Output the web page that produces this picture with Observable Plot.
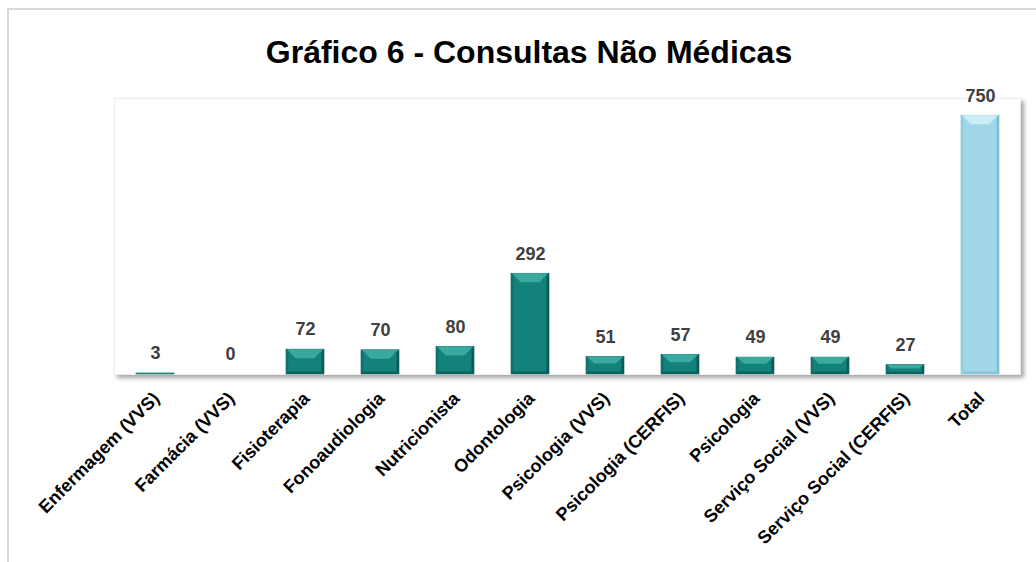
<!DOCTYPE html>
<html>
<head>
<meta charset="utf-8">
<script src="https://cdn.jsdelivr.net/npm/d3@7"></script>
<script src="https://cdn.jsdelivr.net/npm/@observablehq/plot@0.6"></script>
<style>
  html, body { margin: 0; padding: 0; background: #fff; width: 1036px; height: 562px; overflow: hidden; }
  body { position: relative; font-family: Arial, "Liberation Sans", sans-serif; }
  #frame { position: absolute; left: 7px; top: 8px; width: 1040px; height: 560px;
           border-top: 2px solid #d9d9d9; border-left: 2px solid #d9d9d9; pointer-events: none; }
  #title { height: 78px; box-sizing: border-box; padding-top: 34px; padding-left: 22px;
           font-size: 32px; line-height: 36px; font-weight: bold; text-align: center; color: #000; }
  #chart svg { display: block; }
</style>
</head>
<body>
<div id="frame"></div>
<div id="title">Gráfico 6 - Consultas Não Médicas</div>
<div id="chart"></div>
<script>
const categories = [
  "Enfermagem (VVS)", "Farmácia (VVS)", "Fisioterapia", "Fonoaudiologia",
  "Nutricionista", "Odontologia", "Psicologia (VVS)", "Psicologia (CERFIS)",
  "Psicologia", "Serviço Social (VVS)", "Serviço Social (CERFIS)", "Total"
];
const values = [3, 0, 72, 70, 80, 292, 51, 57, 49, 49, 27, 750];
const kinds = ["item","item","item","item","item","item","item","item","item","item","item","total"];

const data = categories.map((c, i) => ({category: c, value: values[i], kind: kinds[i]}));

const palette = {
  item:  {main: "#13827a", top: "#3aaaa0", left: "#0f716a", right: "#0b5c56", bottom: "#0c625c", stroke: "#0a5550"},
  total: {main: "#a1d7e8", top: "#cbedf6", left: "#8fcde0", right: "#7ebfd3", bottom: "#89c6d9", stroke: "#74b5c9"}
};

const chart = Plot.plot({
  width: 1036,
  height: 484,
  marginLeft: 114,
  marginRight: 16,
  marginTop: 20,
  marginBottom: 188,
  style: {fontFamily: "Arial, 'Liberation Sans', sans-serif", fontSize: "18px", background: "transparent", overflow: "visible"},
  x: {domain: categories, paddingInner: 0.5, paddingOuter: 0.25, label: null},
  y: {domain: [0, 800], axis: null},
  marks: [
    Plot.frame({fill: "white", stroke: "#eeeeee", className: "plotframe"}),
    Plot.barY(data, {x: "category", y: "value", fill: d => palette[d.kind].main,
      stroke: d => palette[d.kind].stroke, strokeWidth: 0.6, className: "bevelbars"}),
    Plot.text(data, {x: "category", y: "value", text: d => String(d.value), dy: -20,
      fill: "#404040", fontWeight: "bold", fontSize: 18}),
    Plot.axisX({tickRotate: -45, tickSize: 0, tickPadding: 21, fontWeight: "bold",
      fontSize: 18, fill: "#000", label: null, dx: 1})
  ]
});
document.getElementById("chart").appendChild(chart);

// Drop shadow on the plot frame + bevel overlay on each bar (read from rendered rects)
const svg = d3.select(chart);
const defs = svg.insert("defs", ":first-child");
const f = defs.append("filter").attr("id", "shadow").attr("x", "-5%").attr("y", "-5%").attr("width", "110%").attr("height", "115%");
f.append("feDropShadow").attr("dx", 3).attr("dy", 3).attr("stdDeviation", 2)
  .attr("flood-color", "#000").attr("flood-opacity", 0.35);
svg.selectAll(".plotframe").attr("filter", "url(#shadow)");

svg.selectAll(".bevelbars rect").each(function(d, i) {
  const r = d3.select(this);
  const x = +r.attr("x"), y = +r.attr("y"), w = +r.attr("width"), h = +r.attr("height");
  if (!(h > 0)) return;
  const idx = (typeof d === "number") ? d : i;
  const p = palette[data[idx].kind];
  const t = Math.min(9, h * 0.4), b = Math.min(2.5, h * 0.25);
  const g = d3.select(this.parentNode).append("g").attr("pointer-events", "none");
  const poly = (pts, fill) => g.append("polygon").attr("points", pts.map(q => q.join(",")).join(" ")).attr("fill", fill);
  poly([[x, y], [x + b, y + b], [x + b, y + h - b], [x, y + h]], p.left);
  poly([[x + w, y], [x + w - b, y + b], [x + w - b, y + h - b], [x + w, y + h]], p.right);
  poly([[x, y + h], [x + b, y + h - b], [x + w - b, y + h - b], [x + w, y + h]], p.bottom);
  poly([[x + b * 0.4, y], [x + w - b * 0.4, y], [x + w - b - t * 0.8, y + t], [x + b + t * 0.8, y + t]], p.top);
});
</script>
</body>
</html>
